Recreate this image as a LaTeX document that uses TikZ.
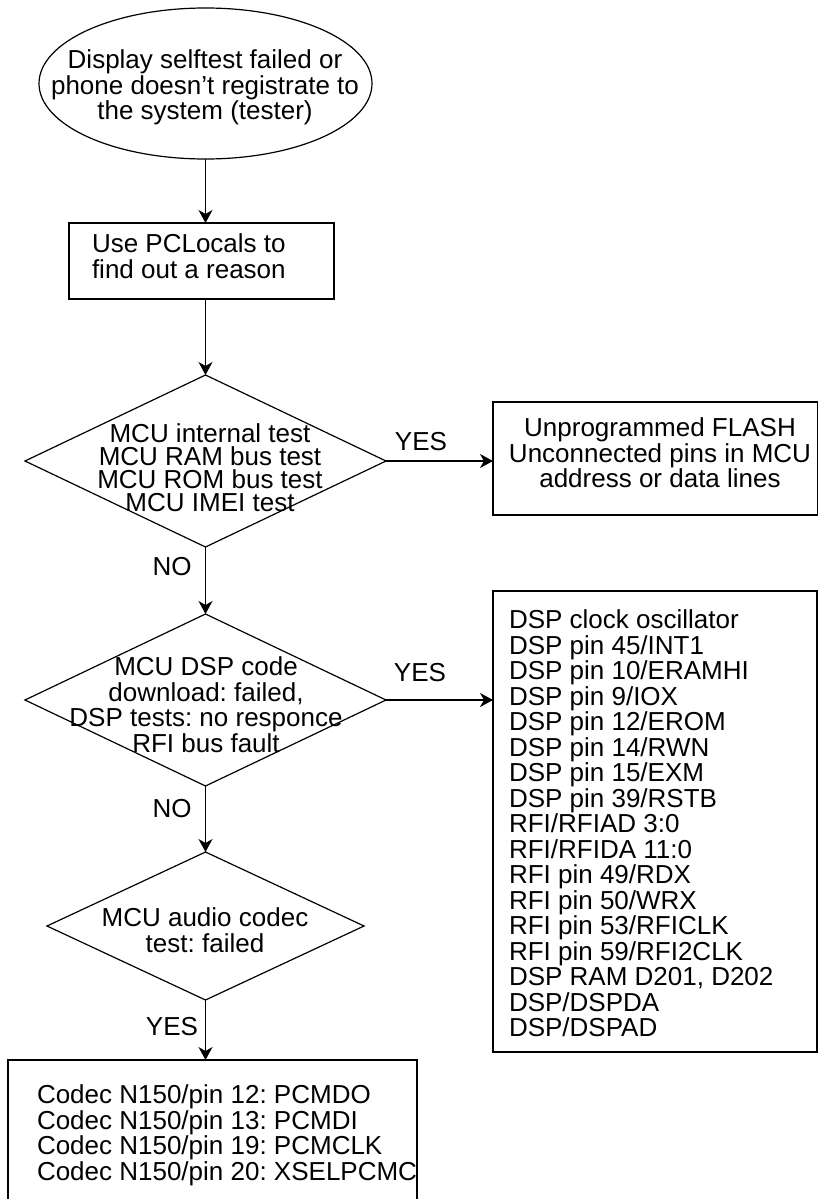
\documentclass[tikz,border=0pt]{standalone}
\usepackage{fontspec}
\setmainfont{Liberation Sans}
\usetikzlibrary{shapes.geometric,arrows.meta}
\frenchspacing
\tikzset{
  shp/.style={draw, line width=1.2pt, inner sep=0pt, outer sep=0pt},
  txt/.style={inner sep=0pt, outer sep=0pt, font=\fontsize{26pt}{25.5pt}\selectfont},
  lbl/.style={inner sep=0pt, font=\fontsize{26pt}{25.5pt}\selectfont},
  arr/.style={line width=1.2pt, -{Stealth[length=13pt,width=14pt,inset=4pt]}},
}
\begin{document}
\begin{tikzpicture}[x=1pt,y=1pt]
\useasboundingbox (0,0) rectangle (819,-1199);
\fill[white] (0,0) rectangle (819,-1199);
\clip (0,0) rectangle (819,-1199);

\node[shp, ellipse, minimum width=333pt, minimum height=151pt] (start) at (205.5,-83.5) {};
\node[txt, align=center, anchor=north] (starttext) at (205,-50) {Display selftest failed or\\phone doesn’t registrate to\\the system (tester)};

\node[shp, rectangle, minimum width=265pt, minimum height=76pt] (pcl) at (201.5,-261) {};
\node[txt, align=left, anchor=north west] (pcltext) at (92,-234) {Use PCLocals to\\find out a reason};

\node[shp, diamond, minimum width=361pt, minimum height=172pt] (d1) at (205.5,-461) {};
\node[txt, align=center, anchor=north, font=\fontsize{26pt}{23pt}\selectfont] (d1text) at (210,-424) {MCU internal test\\MCU RAM bus test\\MCU ROM bus test\\MCU IMEI test};

\node[shp, rectangle, minimum width=324.5pt, minimum height=113pt] (flash) at (655.25,-458.5) {};
\node[txt, align=center, anchor=north] (flashtext) at (660,-418) {Unprogrammed FLASH\\Unconnected pins in MCU\\address or data lines};

\node[shp, diamond, minimum width=361pt, minimum height=172pt] (d2) at (205.5,-700) {};
\node[txt, align=center, anchor=north] (d2text) at (206,-657) {MCU DSP code\\download: failed,\\DSP tests: no responce\\RFI bus fault};

\node[shp, rectangle, minimum width=324pt, minimum height=461pt] (dsp) at (655,-821.5) {};
\node[txt, align=left, anchor=north west] (dsptext) at (509,-610) {DSP clock oscillator\\DSP pin 45/INT1\\DSP pin 10/ERAMHI\\DSP pin 9/IOX\\DSP pin 12/EROM\\DSP pin 14/RWN\\DSP pin 15/EXM\\DSP pin 39/RSTB\\RFI/RFIAD 3:0\\RFI/RFIDA 11:0\\RFI pin 49/RDX\\RFI pin 50/WRX\\RFI pin 53/RFICLK\\RFI pin 59/RFI2CLK\\DSP RAM D201, D202\\DSP/DSPDA\\DSP/DSPAD};

\node[shp, diamond, minimum width=317pt, minimum height=148pt] (d3) at (205.5,-926) {};
\node[txt, align=center, anchor=north] (d3text) at (205,-908) {MCU audio codec\\test: failed};

\node[shp, rectangle, minimum width=409pt, minimum height=160pt] (codec) at (212.5,-1140) {};
\node[txt, align=left, anchor=north west] (codectext) at (37,-1085) {Codec N150/pin 12: PCMDO\\Codec N150/pin 13: PCMDI\\Codec N150/pin 19: PCMCLK\\Codec N150/pin 20: XSELPCMC};

\node[lbl] (yes1) at (421,-442) {YES};
\node[lbl] (no1) at (172,-567) {NO};
\node[lbl] (yes2) at (420,-673) {YES};
\node[lbl] (no2) at (172,-809) {NO};
\node[lbl] (yes3) at (172,-1027) {YES};

\draw[arr] (start.south) -- (start.south |- pcl.north);
\draw[arr] (d1.north |- pcl.south) -- (d1.north);
\draw[arr] (d1.east) -- (d1.east -| flash.west);
\draw[arr] (d1.south) -- (d2.north);
\draw[arr] (d2.east) -- (d2.east -| dsp.west);
\draw[arr] (d2.south) -- (d3.north);
\draw[arr] (d3.south) -- (d3.south |- codec.north);
\end{tikzpicture}
\end{document}
